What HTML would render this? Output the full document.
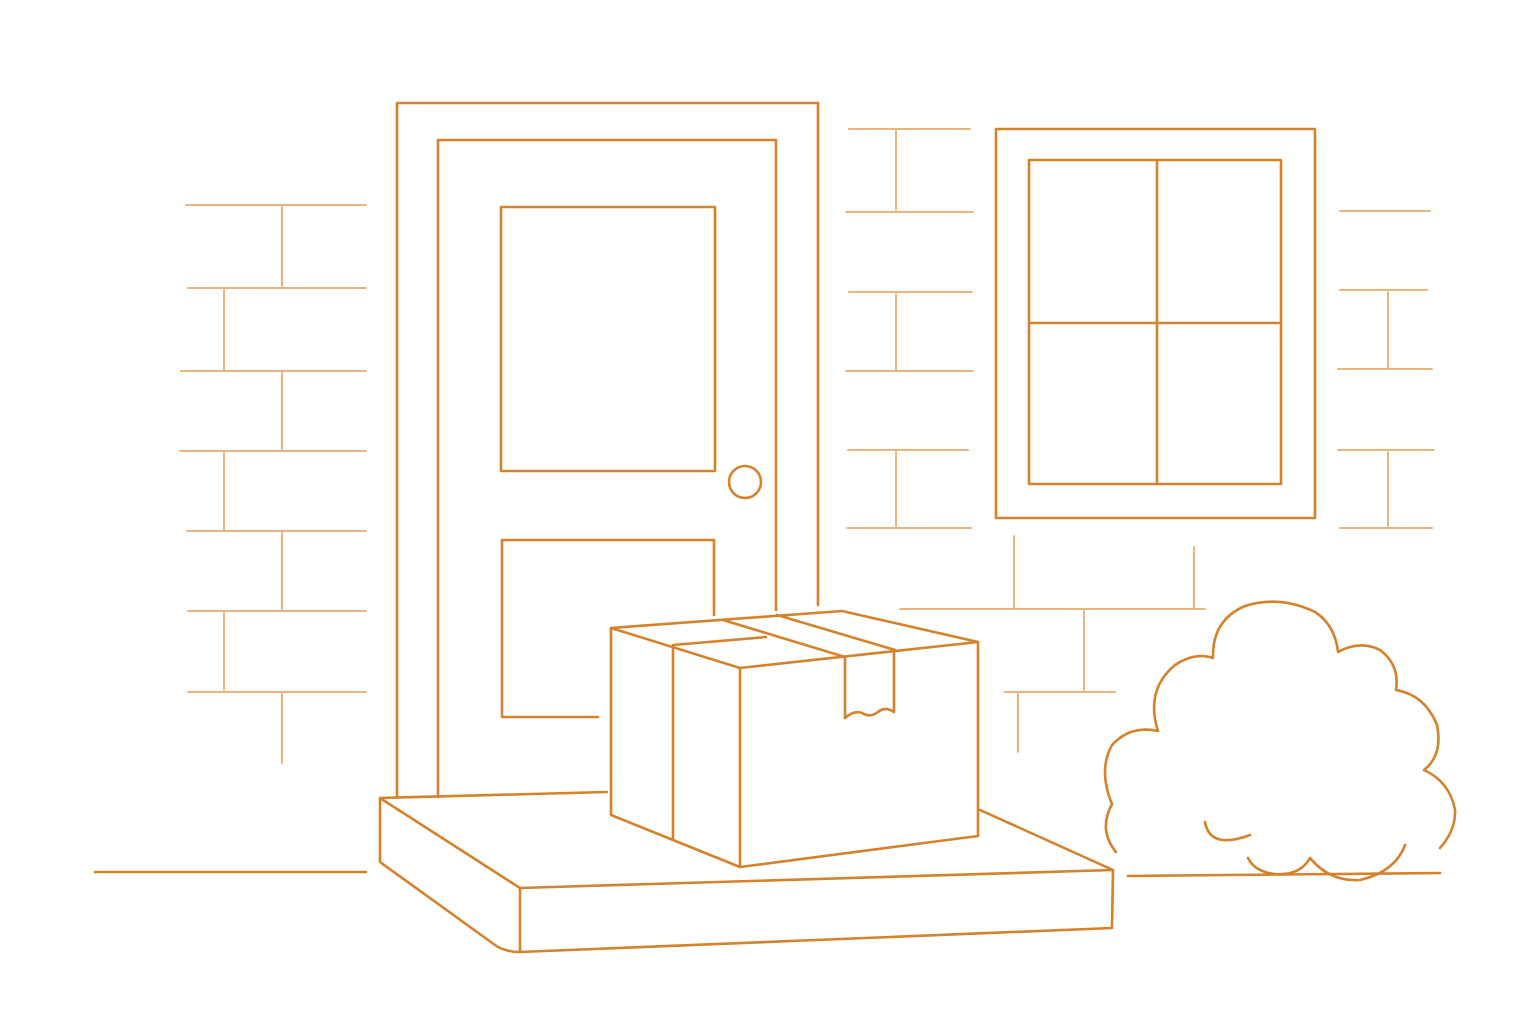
<!DOCTYPE html>
<html><head><meta charset="utf-8"><style>html,body{margin:0;padding:0;background:#fff}svg{display:block}</style></head>
<body>
<svg width="1536" height="1024" viewBox="0 0 1536 1024" xmlns="http://www.w3.org/2000/svg" fill="none" stroke-linecap="round" stroke-linejoin="round">
<g stroke="#E9B47F" stroke-width="2">
<!-- left bricks -->
<path d="M186 205H366M188 288H366M181 371H366M180 451H366M187 531H366M188 611H366M188 692H366"/>
<path d="M282 207V286M224 290V369M282 373V449M224 453V529M282 533V609M224 613V690M282 694V763"/>
<!-- middle bricks -->
<path d="M849 129H970M846 212H973M849 292H972M846 371H973M848 450H968M847 528H971"/>
<path d="M896 131V210M896 294V369M896 452V526"/>
<path d="M1014 536V607M1194 547V607M900 609H1205M1084 611V690M1005 692H1115M1018 694V752"/>
<!-- right bricks -->
<path d="M1340 211H1430M1340 290H1427M1338 369H1432M1338 450H1434M1340 528H1432"/>
<path d="M1388 292V367M1388 452V526"/>
</g>
<g stroke="#D4822B" stroke-width="2.6">
<!-- door -->
<path d="M397 797V103H818V605"/>
<path d="M438 797V140H776V610"/>
<rect x="501" y="207" width="214" height="264"/>
<path d="M598 717H502V540H714V615"/>
<circle cx="745" cy="482" r="16"/>
<!-- window -->
<rect x="996" y="129" width="319" height="389"/>
<rect x="1029" y="160" width="252" height="324"/>
<path d="M1157 162V482M1031 323H1279"/>
<!-- step -->
<path d="M607 792L380 798V862L495 945Q505 952 520 952L1112 928L1113 870L980 810"/>
<path d="M380 798L520 888L1113 870M520 888V952"/>
<!-- box -->
<path d="M611 628L842 611L978 642L740 668Z"/>
<path d="M611 628V815L740 867V668M740 867L978 836V642"/>
<path d="M673 645V840M673 645L766 637M723 620L845 657M777 615L895 650"/>
<path d="M845 657V718M894 652V712Q885 706 878 712Q870 718 862 713Q854 710 845 718"/>
<!-- ground -->
<path d="M95 872H366M1128 876L1440 873"/>
<!-- bush -->
<path d="M1116 852Q1098 830 1112 804Q1098 770 1112 745Q1130 725 1158 731Q1145 690 1175 665Q1195 652 1213 658Q1212 620 1245 606Q1280 595 1315 612Q1335 625 1338 652Q1360 640 1380 650Q1400 665 1396 690Q1425 695 1437 725Q1443 755 1424 770Q1450 782 1455 810Q1456 830 1440 848"/>
<path d="M1405 845Q1395 872 1360 880Q1330 882 1310 858Q1300 876 1275 874Q1255 872 1248 858"/>
<path d="M1205 822Q1210 850 1250 835"/>
</g>
</svg>
</body></html>
